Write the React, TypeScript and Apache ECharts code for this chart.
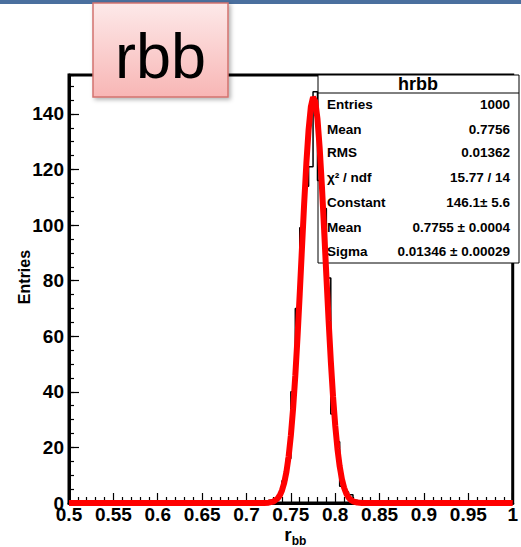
import React, { useEffect, useRef } from 'react';
import * as echarts from 'echarts';

// Histogram hrbb: 0.005-wide bins, listed from the first non-empty bin
const histFirstEdge = 0.725;
const histBinWidth = 0.005;
const histCounts = [1, 1, 3, 8, 16, 40, 70, 99, 114, 121, 148, 116, 106, 81, 32, 22, 6, 4, 3, 1];

// Gaussian fit curve, sampled points (x, y)
const fitX = [
  0.5, 0.72, 0.725, 0.73, 0.735, 0.7375, 0.74, 0.7425, 0.745, 0.7475, 0.75, 0.7525, 0.755, 0.7575,
  0.76, 0.7625, 0.765, 0.7675, 0.77, 0.7725, 0.775, 0.7755, 0.7775, 0.78, 0.7825, 0.785, 0.7875,
  0.79, 0.7925, 0.795, 0.7975, 0.8, 0.8025, 0.805, 0.8075, 0.81, 0.8125, 0.815, 0.8175, 0.82,
  0.825, 0.83, 1.0,
];
const fitY = [
  0, 0.03, 0.13, 0.48, 1.58, 2.72, 4.51, 7.24, 11.2, 16.8, 24.3, 33.9, 45.8, 59.7,
  75.3, 91.6, 107.8, 122.4, 134.4, 142.5, 146.0, 146.1, 144.5, 138.2, 127.6, 113.9, 98.2,
  81.8, 65.8, 51.2, 38.4, 27.9, 19.5, 13.2, 8.66, 5.47, 3.34, 1.97, 1.12, 0.62,
  0.17, 0.04, 0,
];

// Axis ranges and ticks
const xMin = 0.5;
const xMax = 1.0;
const xMajor = 0.05;
const yMin = 0;
const yMax = 154;
const yMajor = 20;
const yMinor = 5;

// Statistics box contents
const statsTitle = 'hrbb';
const statsLabels = ['Entries', 'Mean', 'RMS', 'χ² / ndf', 'Constant', 'Mean', 'Sigma'];
const statsValues = ['1000', '0.7756', '0.01362', '15.77 / 14', '146.1± 5.6', '0.7755 ± 0.0004', '0.01346 ± 0.00029'];

const slideTitle = 'rbb';
const yTitle = 'Entries';

const FONT = '"Liberation Sans", Arial, Helvetica, sans-serif';

export default function App() {
  const ref = useRef<HTMLDivElement>(null);

  useEffect(() => {
    document.body.style.margin = '0';
    if (!ref.current) return;
    const chart = echarts.init(ref.current, undefined, { renderer: 'svg' });

    const histPts: number[][] = [[xMin, 0], [histFirstEdge, 0]];
    histCounts.forEach((c, i) => {
      const lo = histFirstEdge + i * histBinWidth;
      const hi = lo + histBinWidth;
      histPts.push([lo, c], [hi, c]);
    });
    const lastEdge = histFirstEdge + histCounts.length * histBinWidth;
    histPts.push([lastEdge, 0], [xMax, 0]);

    const fitPts = fitX.map((x, i) => [x, fitY[i]]);

    const rowYs = [104, 129, 152, 177, 202, 227, 251];
    const statsEls: any[] = [
      {
        type: 'rect',
        z: 1,
        shape: { x: 318, y: 75, width: 201, height: 188 },
        style: { fill: '#fff', stroke: '#000', lineWidth: 1 },
      },
      {
        type: 'line',
        z: 1,
        shape: { x1: 318, y1: 93, x2: 519, y2: 93 },
        style: { stroke: '#000', lineWidth: 1 },
      },
      {
        type: 'text',
        z: 1,
        x: 418,
        y: 84,
        style: {
          text: statsTitle, fill: '#000', fontFamily: FONT, fontWeight: 'bold', fontSize: 18,
          align: 'center', verticalAlign: 'middle', textAlign: 'center', textVerticalAlign: 'middle',
        },
      },
    ];
    statsLabels.forEach((lab, i) => {
      statsEls.push({
        type: 'text',
        z: 1,
        x: 327,
        y: rowYs[i],
        style: {
          text: lab, fill: '#000', fontFamily: FONT, fontWeight: 'bold', fontSize: 13.5,
          align: 'left', verticalAlign: 'middle', textAlign: 'left', textVerticalAlign: 'middle',
        },
      });
      statsEls.push({
        type: 'text',
        z: 1,
        x: 510,
        y: rowYs[i],
        style: {
          text: statsValues[i], fill: '#000', fontFamily: FONT, fontWeight: 'bold', fontSize: 13.5,
          align: 'right', verticalAlign: 'middle', textAlign: 'right', textVerticalAlign: 'middle',
        },
      });
    });

    const option: any = {
      animation: false,
      backgroundColor: '#fff',
      grid: {
        left: 69, right: 2, top: 75, bottom: 44,
        show: true, borderColor: '#000', borderWidth: 3, backgroundColor: 'rgba(0,0,0,0)',
      },
      xAxis: [
        {
          type: 'value', min: xMin, max: xMax, interval: xMajor, position: 'bottom',
          axisLine: { show: true, onZero: false, lineStyle: { color: '#000', width: 3 } },
          axisTick: { show: true, inside: true, length: 10, lineStyle: { color: '#000', width: 1.2 } },
          minorTick: { show: true, splitNumber: 5, length: 6, lineStyle: { color: '#000', width: 1.2 } },
          splitLine: { show: false },
          axisLabel: {
            color: '#000', fontFamily: FONT, fontWeight: 'bold', fontSize: 19, margin: 2,
            formatter: (v: number) => String(parseFloat(v.toFixed(3))),
          },
        },
      ],
      yAxis: [
        {
          type: 'value', min: yMin, max: yMax, interval: yMajor, position: 'left',
          axisLine: { show: true, onZero: false, lineStyle: { color: '#000', width: 3 } },
          axisTick: { show: true, inside: true, length: 10, lineStyle: { color: '#000', width: 1.2 } },
          splitLine: { show: false },
          axisLabel: {
            color: '#000', fontFamily: FONT, fontWeight: 'bold', fontSize: 19, margin: 5,
            showMaxLabel: false,
            formatter: (v: number) => (Math.abs(v % yMajor) < 1e-6 ? String(v) : ''),
          },
        },
        {
          type: 'value', min: yMin, max: yMax, interval: yMinor, position: 'left',
          axisLine: { show: false },
          axisTick: { show: true, inside: true, length: 5, lineStyle: { color: '#000', width: 1.2 } },
          splitLine: { show: false },
          axisLabel: { show: false },
        },
      ],
      series: [
        {
          type: 'line', name: 'hrbb', data: histPts, xAxisIndex: 0, yAxisIndex: 0,
          showSymbol: false, symbol: 'none', z: 3,
          lineStyle: { color: '#000', width: 1.5 },
        },
        {
          type: 'line', name: 'gaus', data: fitPts, xAxisIndex: 0, yAxisIndex: 0,
          showSymbol: false, symbol: 'none', z: 4, smooth: false,
          lineStyle: { color: '#ff0000', width: 6 },
        },
      ],
      graphic: [
        // slide header strip
        {
          type: 'rect', z: 20, shape: { x: 0, y: 0, width: 521, height: 4 },
          style: { fill: '#4a6f9e' },
        },
        ...statsEls,
        // axis titles
        {
          type: 'text', z: 5, x: 24, y: 277, rotation: Math.PI / 2,
          style: {
            text: yTitle, fill: '#000', fontFamily: FONT, fontWeight: 'bold', fontSize: 16,
            align: 'center', verticalAlign: 'middle', textAlign: 'center', textVerticalAlign: 'middle',
          },
        },
        {
          type: 'text', z: 5, x: 288, y: 534,
          style: {
            text: 'r', fill: '#000', fontFamily: FONT, fontWeight: 'bold', fontSize: 19,
            align: 'center', verticalAlign: 'middle', textAlign: 'center', textVerticalAlign: 'middle',
          },
        },
        {
          type: 'text', z: 5, x: 299, y: 541,
          style: {
            text: 'bb', fill: '#000', fontFamily: FONT, fontWeight: 'bold', fontSize: 12,
            align: 'center', verticalAlign: 'middle', textAlign: 'center', textVerticalAlign: 'middle',
          },
        },
        // slide title box
        {
          type: 'rect', z: 20, shape: { x: 93, y: 3, width: 135, height: 94 },
          style: {
            fill: new echarts.graphic.LinearGradient(0, 0, 0, 1, [
              { offset: 0, color: '#fde9e9' },
              { offset: 1, color: '#f8b6b5' },
            ]),
            stroke: '#d2736f', lineWidth: 1.5,
            shadowBlur: 4, shadowOffsetX: 2, shadowOffsetY: 2, shadowColor: 'rgba(0,0,0,0.3)',
          },
        },
        {
          type: 'text', z: 21, x: 160.5, y: 56,
          style: {
            text: slideTitle, fill: '#000', fontFamily: FONT, fontSize: 63,
            align: 'center', verticalAlign: 'middle', textAlign: 'center', textVerticalAlign: 'middle',
          },
        },
      ],
    };

    chart.setOption(option);
    return () => chart.dispose();
  }, []);

  return <div ref={ref} style={{ width: 521, height: 547 }} />;
}
